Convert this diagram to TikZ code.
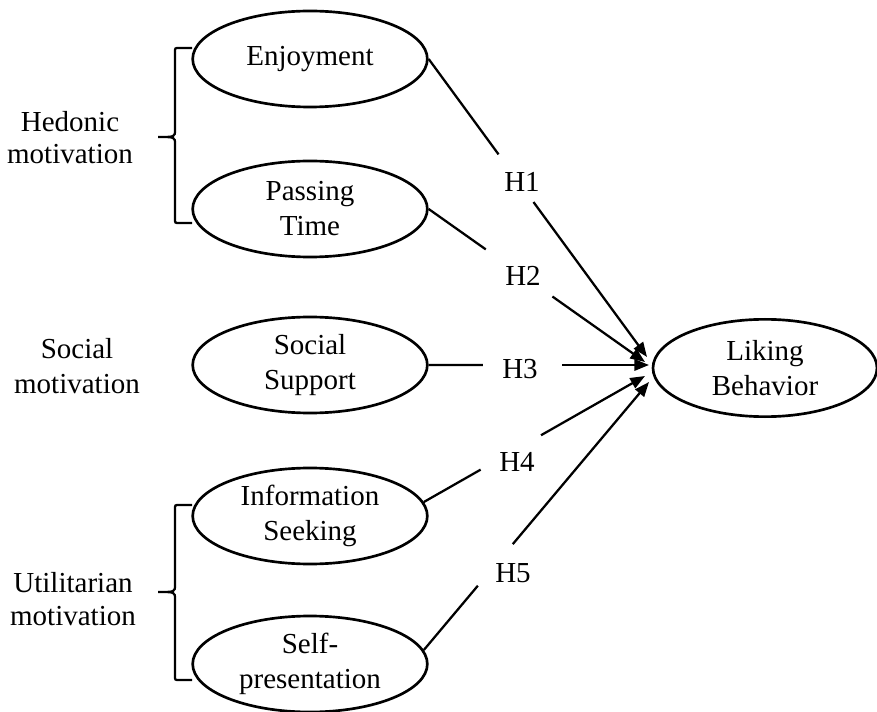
\documentclass[tikz,border=0pt]{standalone}
\usepackage{fontspec}
\setmainfont{Liberation Serif}
\usetikzlibrary{arrows.meta,calc,shapes.geometric}
\begin{document}
\begin{tikzpicture}[x=0.75pt,y=-0.75pt,
  every node/.style={font=\fontsize{21.75}{26.25}\selectfont, inner sep=0pt},
  ell/.style={ellipse, draw, line width=2pt, minimum width=176pt, minimum height=72pt, align=center},
  conn/.style={line width=1.7pt},
  arr/.style={conn, -{Triangle[length=11pt,width=8.5pt]}},
  brace/.style={line width=1.7pt},
  grp/.style={align=center}]
\useasboundingbox (0,0) rectangle (877,712);

% construct ellipses
\node[ell] (enj)  at (310,59)  {Enjoyment};
\node[ell] (pass) at (310,209) {Passing\\Time};
\node[ell] (soc)  at (310,365) {Social\\Support};
\node[ell] (info) at (310,516) {Information\\Seeking};
\node[ell] (self) at (310,664) {Self-\\presentation};
\node[ell, minimum width=168pt, minimum height=73pt] (lb) at (765,368) {Liking\\Behavior};

% group labels
\node[grp, font=\fontsize{21.75}{24}\selectfont] (hed) at (70,138) {Hedonic\\motivation};
\node[grp] (socm) at (77,366) {Social\\motivation};
\node[grp, font=\fontsize{21.75}{24.75}\selectfont] (util) at (73,599) {Utilitarian\\motivation};

% braces
\draw[brace] (192,48) -- (179,48) .. controls (175,48) .. (175,52) -- (175,130)
  .. controls (175,137) .. (158,137) .. controls (175,137) .. (175,144)
  -- (175,219) .. controls (175,223) .. (179,223) -- (192,223);
\draw[brace] (192,505) -- (179,505) .. controls (175,505) .. (175,509) -- (175,585)
  .. controls (175,592) .. (158,592) .. controls (175,592) .. (175,599)
  -- (175,676) .. controls (175,680) .. (179,680) -- (192,680);

% hypothesis labels
\node (h1) at (522,182) {H1};
\node (h2) at (523,276) {H2};
\node (h3) at (520,369) {H3};
\node (h4) at (517,462) {H4};
\node (h5) at (513,573) {H5};

% arrow tips
\coordinate (t1) at (647,357);
\coordinate (t2) at (645,362);
\coordinate (t3) at (649,365);
\coordinate (t4) at (645,376);
\coordinate (t5) at (649,382);

% connectors
\draw[conn] (enj.east) -- ($(enj.east)!0.32!(t1)$);
\draw[arr]  ($(enj.east)!0.48!(t1)$) -- (t1);
\draw[conn] (pass.east) -- ($(pass.east)!0.264!(t2)$);
\draw[arr]  ($(pass.east)!0.572!(t2)$) -- (t2);
\draw[conn] (soc.east) -- ($(soc.east)!0.246!(t3)$);
\draw[arr]  ($(soc.east)!0.607!(t3)$) -- (t3);
\draw[conn] (info.7) -- ($(info.7)!0.257!(t4)$);
\draw[arr]  ($(info.7)!0.53!(t4)$) -- (t4);
\draw[conn] (self.7) -- ($(self.7)!0.24!(t5)$);
\draw[arr]  ($(self.7)!0.395!(t5)$) -- (t5);
\end{tikzpicture}
\end{document}
